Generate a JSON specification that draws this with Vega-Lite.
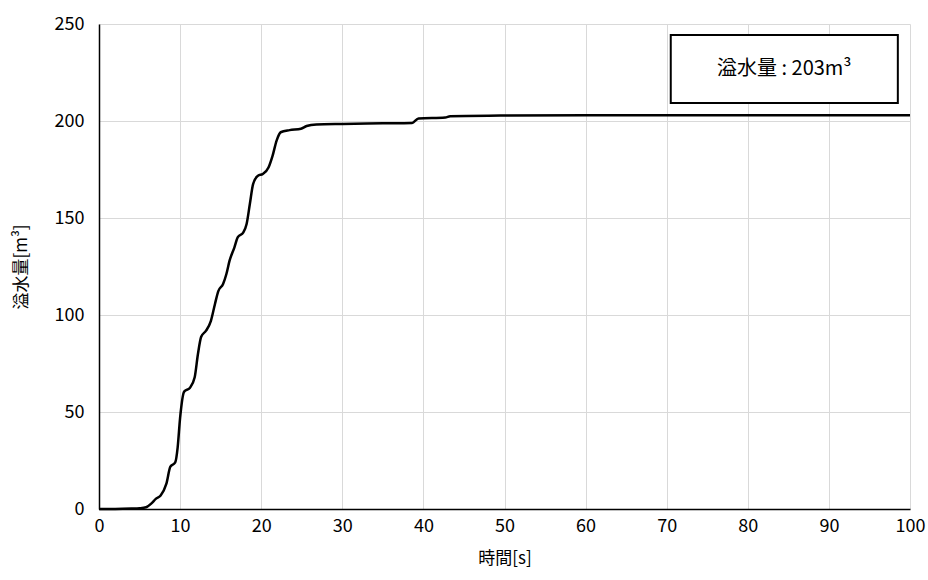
{
  "$schema": "https://vega.github.io/schema/vega-lite/v6.json",
  "width": 811,
  "height": 485,
  "autosize": {"type": "none"},
  "padding": {"left": 99, "top": 24, "right": 18, "bottom": 71},
  "background": "white",
  "config": {
    "view": {"stroke": null},
    "font": "Noto Sans CJK JP",
    "axis": {
      "labelFont": "Noto Sans CJK JP",
      "titleFont": "Noto Sans CJK JP",
      "labelFontSize": 18,
      "titleFontSize": 17,
      "labelColor": "#000000",
      "titleColor": "#000000",
      "titleFontWeight": "normal",
      "gridColor": "#d9d9d9",
      "gridWidth": 1,
      "domainColor": "#000000",
      "domainWidth": 1.5,
      "ticks": false
    }
  },
  "layer": [
    {
      "data": {
        "values": [
          {"t": 0, "v": 0}, {"t": 2, "v": 0}, {"t": 4, "v": 0.2}, {"t": 5, "v": 0.4},
          {"t": 5.8, "v": 0.9}, {"t": 6.5, "v": 3}, {"t": 7, "v": 5.2}, {"t": 7.6, "v": 6.9},
          {"t": 8.3, "v": 12.9}, {"t": 8.8, "v": 21.8}, {"t": 9.4, "v": 24}, {"t": 9.7, "v": 31.8},
          {"t": 10, "v": 47}, {"t": 10.5, "v": 60.5}, {"t": 11.2, "v": 62.4}, {"t": 11.8, "v": 67.9},
          {"t": 12.2, "v": 79.9}, {"t": 12.6, "v": 88.8}, {"t": 13.2, "v": 91.9}, {"t": 13.8, "v": 97},
          {"t": 14.3, "v": 105.7}, {"t": 14.7, "v": 112.2}, {"t": 15.3, "v": 116}, {"t": 15.7, "v": 121},
          {"t": 16.1, "v": 128}, {"t": 16.7, "v": 134.9}, {"t": 17.1, "v": 140}, {"t": 17.8, "v": 142.6},
          {"t": 18.2, "v": 146.9}, {"t": 18.6, "v": 157.2}, {"t": 19.0, "v": 167.5}, {"t": 19.6, "v": 171.8},
          {"t": 20.2, "v": 172.7}, {"t": 20.9, "v": 176}, {"t": 21.4, "v": 182}, {"t": 21.9, "v": 189.9},
          {"t": 22.4, "v": 194.2}, {"t": 23.5, "v": 195.3}, {"t": 24.9, "v": 196}, {"t": 25.6, "v": 197.4},
          {"t": 26.8, "v": 198.2}, {"t": 30, "v": 198.5}, {"t": 35, "v": 198.8}, {"t": 38.6, "v": 199},
          {"t": 39.4, "v": 201.3}, {"t": 42.7, "v": 201.8}, {"t": 43.3, "v": 202.5}, {"t": 49.5, "v": 202.8},
          {"t": 60, "v": 203}, {"t": 80, "v": 203}, {"t": 100, "v": 203}
        ]
      },
      "mark": {"type": "line", "color": "#000000", "strokeWidth": 2.5, "interpolate": "monotone"},
      "encoding": {
        "x": {
          "field": "t", "type": "quantitative",
          "scale": {"domain": [0, 100], "nice": false},
          "axis": {"title": "時間[s]", "values": [0,10,20,30,40,50,60,70,80,90,100], "labelPadding": 8, "titlePadding": 15, "labelFlush": false}
        },
        "y": {
          "field": "v", "type": "quantitative",
          "scale": {"domain": [0, 250], "nice": false},
          "axis": {"title": "溢水量[m³]", "values": [0,50,100,150,200,250], "labelPadding": 15, "titlePadding": 24}
        }
      }
    },
    {
      "data": {"values": [{"label": "溢水量 : 203m³"}]},
      "mark": {"type": "rect", "fill": "#ffffff", "stroke": "#000000", "strokeWidth": 2},
      "encoding": {
        "x": {"datum": 70.5, "type": "quantitative"},
        "x2": {"datum": 98.5},
        "y": {"datum": 209.3, "type": "quantitative"},
        "y2": {"datum": 244.3}
      }
    },
    {
      "data": {"values": [{"label": "溢水量 : 203m³"}]},
      "mark": {"type": "text", "fontSize": 20, "color": "#000000", "align": "center", "baseline": "middle"},
      "encoding": {
        "x": {"datum": 84.5, "type": "quantitative"},
        "y": {"datum": 226.8, "type": "quantitative"},
        "text": {"field": "label"}
      }
    }
  ]
}
